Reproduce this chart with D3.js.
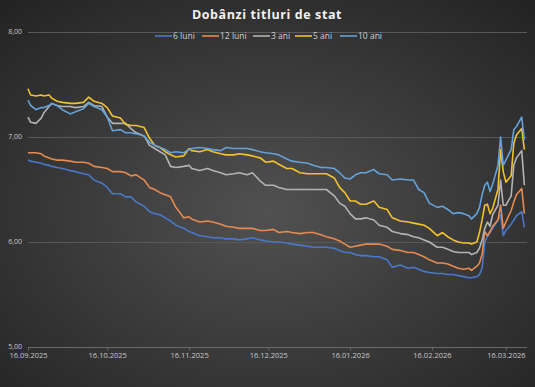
<!DOCTYPE html>
<html>
<head>
<meta charset="utf-8">
<style>
  body { margin: 0; background: #2b2b2b; }
  svg { display: block; }
</style>
</head>
<body>
<div id="chart"></div>

<script src="https://cdn.jsdelivr.net/npm/d3@7/dist/d3.min.js"></script>
<script>
// data
const dates = [
  "2025-09-16","2025-09-17","2025-09-19","2025-09-21","2025-09-22","2025-09-24","2025-09-25","2025-09-27","2025-09-29","2025-10-02",
  "2025-10-04","2025-10-07","2025-10-09","2025-10-11","2025-10-14","2025-10-16","2025-10-18","2025-10-21","2025-10-23","2025-10-25",
  "2025-10-27","2025-10-30","2025-11-01","2025-11-03","2025-11-05","2025-11-07","2025-11-09","2025-11-11","2025-11-14","2025-11-16",
  "2025-11-17","2025-11-20","2025-11-23","2025-11-25","2025-11-28","2025-11-30","2025-12-03","2025-12-05","2025-12-08","2025-12-10",
  "2025-12-13","2025-12-15","2025-12-18","2025-12-20","2025-12-23","2025-12-25","2025-12-28","2025-12-31","2026-01-02","2026-01-05",
  "2026-01-07","2026-01-10","2026-01-12","2026-01-14","2026-01-16","2026-01-18","2026-01-20","2026-01-22","2026-01-25","2026-01-27",
  "2026-01-30","2026-02-01","2026-02-04","2026-02-07","2026-02-09","2026-02-11","2026-02-13","2026-02-15","2026-02-18","2026-02-20",
  "2026-02-22","2026-02-24","2026-02-26","2026-02-28","2026-03-02","2026-03-03","2026-03-05","2026-03-06","2026-03-07","2026-03-08",
  "2026-03-09","2026-03-10","2026-03-11","2026-03-13","2026-03-14","2026-03-15","2026-03-16","2026-03-18","2026-03-19","2026-03-20",
  "2026-03-22","2026-03-23"
];

const luni6 = [
  6.78,6.77,6.76,6.75,6.74,6.73,6.72,6.71,6.70,6.68,
  6.67,6.65,6.64,6.59,6.56,6.52,6.46,6.46,6.43,6.43,
  6.38,6.34,6.29,6.27,6.26,6.23,6.20,6.16,6.13,6.10,
  6.09,6.06,6.05,6.04,6.04,6.03,6.03,6.02,6.03,6.04,
  6.02,6.01,6.00,6.00,5.99,5.98,5.97,5.96,5.95,5.95,
  5.95,5.94,5.92,5.90,5.90,5.88,5.87,5.87,5.86,5.86,
  5.83,5.76,5.78,5.75,5.76,5.74,5.72,5.71,5.70,5.70,
  5.69,5.69,5.68,5.67,5.66,5.66,5.67,5.69,5.75,6.00,
  6.05,6.09,6.13,6.21,6.26,6.06,6.11,6.17,6.21,6.25,
  6.29,6.14
];

const luni12 = [
  6.85,6.85,6.85,6.84,6.82,6.80,6.79,6.78,6.78,6.77,
  6.76,6.76,6.75,6.72,6.71,6.70,6.67,6.67,6.66,6.63,
  6.64,6.59,6.52,6.50,6.47,6.45,6.43,6.33,6.23,6.24,
  6.22,6.19,6.20,6.19,6.17,6.15,6.14,6.13,6.13,6.13,
  6.11,6.11,6.12,6.09,6.10,6.09,6.08,6.09,6.09,6.07,
  6.05,6.03,6.01,5.98,5.95,5.96,5.97,5.98,5.98,5.98,
  5.96,5.93,5.92,5.90,5.90,5.88,5.86,5.83,5.80,5.80,
  5.79,5.77,5.75,5.74,5.75,5.73,5.77,5.80,5.88,6.10,
  6.06,6.10,6.15,6.21,6.35,6.13,6.19,6.30,6.38,6.45,
  6.51,6.27
];

const ani3 = [
  7.19,7.14,7.13,7.18,7.23,7.29,7.32,7.30,7.29,7.29,
  7.28,7.29,7.33,7.30,7.29,7.19,7.13,7.13,7.13,7.08,
  7.04,7.01,6.92,6.89,6.86,6.83,6.72,6.71,6.72,6.73,
  6.70,6.68,6.70,6.68,6.66,6.64,6.65,6.66,6.64,6.66,
  6.58,6.54,6.54,6.52,6.50,6.50,6.50,6.50,6.50,6.50,
  6.50,6.44,6.37,6.34,6.27,6.22,6.22,6.23,6.21,6.16,
  6.14,6.10,6.08,6.07,6.05,6.04,6.02,6.00,5.95,5.95,
  5.93,5.91,5.90,5.90,5.90,5.88,5.90,5.94,6.02,6.13,
  6.19,6.15,6.26,6.35,6.59,6.35,6.35,6.44,6.73,6.80,
  6.87,6.54
];

const ani5 = [
  7.46,7.40,7.39,7.40,7.39,7.40,7.37,7.34,7.33,7.32,
  7.32,7.33,7.38,7.34,7.32,7.28,7.20,7.18,7.12,7.11,
  7.11,7.09,6.99,6.92,6.90,6.86,6.83,6.81,6.82,6.89,
  6.87,6.86,6.88,6.86,6.84,6.83,6.83,6.84,6.83,6.82,
  6.80,6.76,6.77,6.74,6.70,6.70,6.66,6.65,6.65,6.65,
  6.65,6.61,6.52,6.47,6.39,6.39,6.36,6.36,6.39,6.33,
  6.31,6.23,6.20,6.19,6.18,6.17,6.16,6.13,6.06,6.09,
  6.05,6.02,6.00,5.99,5.99,5.98,6.00,6.09,6.21,6.35,
  6.36,6.27,6.32,6.50,6.88,6.67,6.57,6.63,6.94,7.02,
  7.08,6.88
];

const ani10 = [
  7.35,7.30,7.26,7.28,7.28,7.30,7.32,7.30,7.26,7.22,
  7.24,7.27,7.32,7.29,7.26,7.19,7.06,7.07,7.04,7.04,
  7.03,7.01,6.95,6.92,6.90,6.88,6.85,6.86,6.85,6.88,
  6.89,6.90,6.89,6.88,6.87,6.90,6.89,6.89,6.89,6.88,
  6.86,6.85,6.84,6.83,6.79,6.77,6.76,6.75,6.73,6.71,
  6.71,6.70,6.66,6.61,6.60,6.64,6.66,6.66,6.69,6.65,
  6.64,6.59,6.60,6.59,6.59,6.50,6.47,6.37,6.33,6.34,
  6.31,6.27,6.28,6.27,6.25,6.22,6.27,6.33,6.45,6.54,
  6.57,6.48,6.55,6.73,7.00,6.73,6.78,6.88,7.07,7.10,
  7.19,6.97
];

const seriesNames = ["6 luni", "12 luni", "3 ani", "5 ani", "10 ani"];
const seriesValues = [luni6, luni12, ani3, ani5, ani10];
const seriesColors = ["#4a78c8", "#e58a52", "#b3b3b3", "#f2c12e", "#64a2d8"];

const yTicks = [5, 6, 7, 8];
const xTicks = ["2025-09-16","2025-10-16","2025-11-16","2025-12-16","2026-01-16","2026-02-16","2026-03-16"];
const xStart = "2025-09-16";
const xEnd = "2026-03-24";

const width = 535, height = 387;
const parse = d3.timeParse("%Y-%m-%d");

const svg = d3.select("#chart").append("svg")
  .attr("width", width)
  .attr("height", height);

// background
const grad = svg.append("defs").append("radialGradient")
  .attr("id", "bg")
  .attr("cx", "50%").attr("cy", "55%").attr("r", "75%");
grad.append("stop").attr("offset", "0%").attr("stop-color", "#515151");
grad.append("stop").attr("offset", "100%").attr("stop-color", "#222222");
svg.append("rect").attr("width", width).attr("height", height).attr("fill", "url(#bg)");

const x = d3.scaleTime()
  .domain([parse(xStart), parse(xEnd)])
  .range([28, 527]);

const y = d3.scaleLinear()
  .domain([5, 8])
  .range([347, 32]);

const comma = v => d3.format(".2f")(v).replace(".", ",");

// gridlines
svg.append("g")
  .selectAll("line")
  .data(yTicks)
  .join("line")
    .attr("x1", x.range()[0])
    .attr("x2", x.range()[1])
    .attr("y1", d => y(d) + 0.5)
    .attr("y2", d => y(d) + 0.5)
    .attr("stroke", d => d === 5 ? "#6a6a6a" : "#585858")
    .attr("stroke-width", 1);

// y axis labels
const yAxis = svg.append("g")
  .attr("transform", `translate(${x.range()[0]},-1)`)
  .call(d3.axisLeft(y).tickValues(yTicks).tickFormat(comma).tickSize(0).tickPadding(6));
yAxis.select(".domain").remove();
yAxis.selectAll("text")
  .attr("fill", "#c8c8c8")
  .style("font-family", "'Open Sans', sans-serif")
  .style("font-size", "7px");

// x axis
const xAxis = svg.append("g")
  .attr("transform", `translate(0,${y(5) + 0.5})`)
  .call(d3.axisBottom(x)
    .tickValues(xTicks.map(parse))
    .tickFormat(d3.timeFormat("%d.%m.%Y"))
    .tickSize(3)
    .tickPadding(2.5));
xAxis.select(".domain").remove();
xAxis.selectAll("line").attr("stroke", "#6a6a6a");
xAxis.selectAll("text")
  .attr("fill", "#c8c8c8")
  .style("font-family", "'Open Sans', sans-serif")
  .style("font-size", "7.5px");

// series lines
const line = d3.line()
  .x((d, i) => x(parse(dates[i])))
  .y(d => y(d));

svg.append("g")
  .selectAll("path")
  .data(seriesValues)
  .join("path")
    .attr("d", line)
    .attr("fill", "none")
    .attr("stroke", (d, i) => seriesColors[i])
    .attr("stroke-width", 1.6)
    .attr("stroke-linejoin", "round");

// title
svg.append("text")
  .attr("x", 267)
  .attr("y", 19)
  .attr("text-anchor", "middle")
  .attr("fill", "#f2f2f2")
  .style("font-family", "'Open Sans', sans-serif")
  .style("font-weight", "bold")
  .style("font-size", "12.5px")
  .style("letter-spacing", "0.6px")
  .text("Dobânzi titluri de stat");

// legend
const legendX = [155, 202, 253, 295, 340];
const legend = svg.append("g")
  .selectAll("g")
  .data(seriesNames)
  .join("g")
    .attr("transform", (d, i) => `translate(${legendX[i]},36)`);
legend.append("line")
  .attr("x1", 0).attr("x2", 17)
  .attr("stroke", (d, i) => seriesColors[i])
  .attr("stroke-width", 1.6);
legend.append("text")
  .attr("x", 18)
  .attr("dy", "0.35em")
  .attr("fill", "#d0d0d0")
  .style("font-family", "'Open Sans', sans-serif")
  .style("font-size", "8.5px")
  .text(d => d);
</script>
</body>
</html>
